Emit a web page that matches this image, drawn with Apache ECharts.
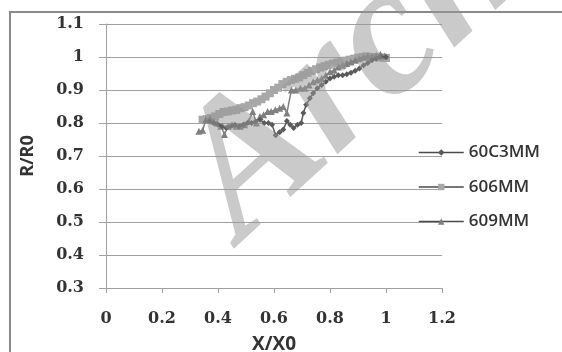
<!DOCTYPE html>
<html>
<head>
<meta charset="utf-8">
<script src="https://cdn.jsdelivr.net/npm/echarts@6/dist/echarts.min.js"></script>
<style>
html,body{margin:0;padding:0;background:#fff;}
#c{width:562px;height:352px;}
</style>
</head>
<body>
<div id="c"></div>
<script>
var seriesNames = ['60C3MM', '606MM', '609MM'];
var xTicks = [0, 0.2, 0.4, 0.6, 0.8, 1, 1.2];
var yTicks = [0.3, 0.4, 0.5, 0.6, 0.7, 0.8, 0.9, 1, 1.1];

var s60C3MM_x = [0.37,0.385,0.40,0.415,0.43,0.445,0.46,0.475,0.49,0.505,0.52,0.535,0.55,0.565,0.58,0.593,0.606,0.62,0.633,0.646,0.658,0.67,0.684,0.697,0.705,0.715,0.728,0.74,0.755,0.77,0.785,0.80,0.815,0.83,0.845,0.86,0.875,0.89,0.905,0.92,0.935,0.95,0.965,0.98,1.0];
var s60C3MM_y = [0.805,0.80,0.795,0.79,0.785,0.79,0.795,0.79,0.795,0.80,0.80,0.805,0.81,0.80,0.80,0.795,0.763,0.772,0.78,0.806,0.795,0.785,0.795,0.80,0.83,0.855,0.875,0.89,0.905,0.915,0.925,0.935,0.94,0.945,0.945,0.948,0.952,0.958,0.965,0.975,0.982,0.99,0.995,1.0,1.0];

var s606MM_x = [0.345,0.36,0.375,0.39,0.405,0.42,0.435,0.45,0.465,0.48,0.495,0.51,0.525,0.54,0.555,0.57,0.585,0.60,0.615,0.63,0.645,0.66,0.675,0.69,0.705,0.72,0.735,0.75,0.765,0.78,0.795,0.81,0.825,0.84,0.855,0.87,0.885,0.90,0.915,0.93,0.945,0.96,0.975,0.99,1.0];
var s606MM_y = [0.81,0.812,0.815,0.82,0.827,0.833,0.835,0.838,0.84,0.845,0.848,0.853,0.86,0.865,0.872,0.88,0.89,0.90,0.907,0.918,0.925,0.93,0.934,0.938,0.945,0.952,0.958,0.963,0.968,0.972,0.976,0.98,0.983,0.986,0.989,0.992,0.995,0.998,1.0,1.002,1.0,1.0,0.999,0.998,0.997];

var s609MM_x = [0.332,0.345,0.357,0.372,0.385,0.397,0.41,0.423,0.436,0.45,0.465,0.48,0.495,0.51,0.524,0.537,0.55,0.563,0.577,0.59,0.605,0.62,0.633,0.646,0.662,0.678,0.694,0.71,0.725,0.74,0.755,0.77,0.785,0.80,0.815,0.83,0.845,0.86,0.875,0.89,0.905,0.92,0.935,0.95,0.965,0.98,0.995];
var s609MM_y = [0.775,0.778,0.81,0.815,0.805,0.80,0.79,0.765,0.79,0.795,0.79,0.79,0.795,0.805,0.835,0.80,0.82,0.825,0.835,0.835,0.84,0.845,0.85,0.83,0.90,0.90,0.905,0.905,0.915,0.925,0.93,0.935,0.945,0.955,0.96,0.97,0.975,0.98,0.985,0.99,0.995,1.0,1.003,1.002,1.005,1.008,1.003];

function pairs(xs, ys){ return xs.map(function(x,i){ return [x, ys[i]]; }); }

var chart = echarts.init(document.getElementById('c'), null, {renderer:'canvas'});
var labelFont = {fontFamily:'DejaVu Serif', fontWeight:'bold', fontSize:16, color:'#333'};
var option = {
  backgroundColor:'#fff',
  animation:false,
  grid:{left:106, top:24, right:120, bottom:64, containLabel:false, outerBoundsMode:'none'},
  xAxis:{
    type:'value', min:xTicks[0], max:xTicks[xTicks.length-1], interval:0.2,
    axisLine:{show:true, lineStyle:{color:'#a0a0a0', width:1}},
    axisTick:{show:true, length:5, inside:false, lineStyle:{color:'#a0a0a0'}},
    splitLine:{show:false},
    axisLabel:Object.assign({margin:23, formatter:function(v){return String(+v.toFixed(1));}}, labelFont),
    name:'X/X0', nameLocation:'middle', nameGap:47,
    nameTextStyle:{fontFamily:'Open Sans', fontWeight:'bold', fontSize:19, color:'#333'}
  },
  yAxis:{
    type:'value', min:yTicks[0], max:yTicks[yTicks.length-1], interval:0.1,
    axisLine:{show:true, lineStyle:{color:'#a0a0a0', width:1}},
    axisTick:{show:true, length:7, inside:false, lineStyle:{color:'#a0a0a0'}},
    splitLine:{show:true, lineStyle:{color:'#a0a0a0', width:1}},
    axisLabel:Object.assign({margin:22, formatter:function(v){return String(+v.toFixed(1));}}, labelFont),
    name:'R/R0', nameLocation:'middle', nameGap:69, nameRotate:90,
    nameTextStyle:{fontFamily:'Open Sans', fontWeight:'bold', fontSize:18, color:'#333'}
  },
  legend:{
    orient:'vertical', left:413, top:139, itemWidth:45, itemHeight:8, itemGap:17.5,
    textStyle:{fontFamily:'Open Sans', fontWeight:600, fontSize:17, color:'#333', lineHeight:16},
    data:[
      {name:seriesNames[0], lineStyle:{color:'#4a4a4a', width:1.5}},
      {name:seriesNames[1], lineStyle:{color:'#4a4a4a', width:1.5}},
      {name:seriesNames[2], lineStyle:{color:'#4a4a4a', width:1.5}}
    ]
  }
};
option.series = [
  {name:seriesNames[1], type:'line', data:pairs(s606MM_x, s606MM_y), symbol:'rect', symbolSize:8,
   itemStyle:{color:'#a8a8a8'}, lineStyle:{color:'#a8a8a8', width:2}, z:2},
  {name:seriesNames[2], type:'line', data:pairs(s609MM_x, s609MM_y), symbol:'triangle', symbolSize:7,
   itemStyle:{color:'#808080'}, lineStyle:{color:'#808080', width:1.5}, z:3},
  {name:seriesNames[0], type:'line', data:pairs(s60C3MM_x, s60C3MM_y), symbol:'diamond', symbolSize:6,
   itemStyle:{color:'#5a5a5a'}, lineStyle:{color:'#5a5a5a', width:1.5}, z:4}
];
option.graphic = [
  {type:'rect', shape:{x:10, y:12, width:620, height:400}, style:{fill:null, stroke:'#8a8a8a', lineWidth:2}, z:0, silent:true},
  {type:'text', x:272, y:276, rotation:0.74, z:100, silent:true,
   style:{text:'Archive of SID', font:'italic bold 190px "Liberation Serif"', fill:'rgba(150,150,150,0.5)', verticalAlign:'bottom', align:'left'}}
];
chart.setOption(option);
</script>
</body>
</html>
